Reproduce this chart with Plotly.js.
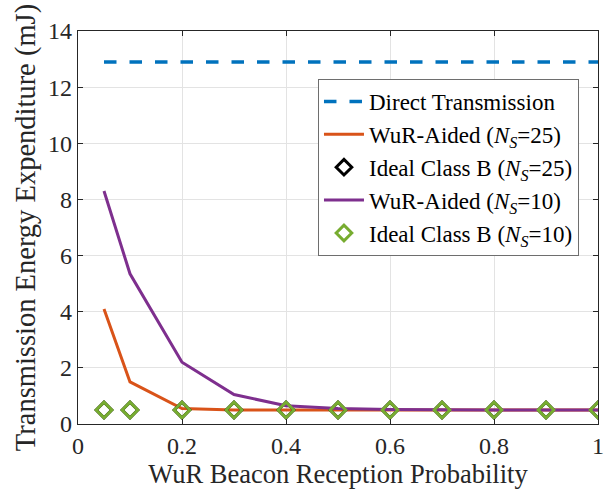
<!DOCTYPE html>
<html><head><meta charset="utf-8">
<script src="https://cdn.plot.ly/plotly-3.0.1.min.js"></script>
<style>html,body{margin:0;padding:0;background:#fff}#chart{width:615px;height:497px}</style>
</head><body><div id="chart"></div>
<script>
const pX = [0.05, 0.1, 0.2, 0.3, 0.4, 0.5, 0.6, 0.7, 0.8, 0.9, 1.0];
const directY = [12.9, 12.9, 12.9, 12.9, 12.9, 12.9, 12.9, 12.9, 12.9, 12.9, 12.9];
const wur25 = [4.1, 1.5, 0.55, 0.5, 0.5, 0.5, 0.5, 0.5, 0.5, 0.5, 0.5];
const ideal25 = [0.5, 0.5, 0.5, 0.5, 0.5, 0.5, 0.5, 0.5, 0.5, 0.5, 0.5];
const wur10 = [8.3, 5.35, 2.2, 1.05, 0.65, 0.55, 0.52, 0.5, 0.5, 0.5, 0.5];
const ideal10 = [0.5, 0.5, 0.5, 0.5, 0.5, 0.5, 0.5, 0.5, 0.5, 0.5, 0.5];
const xTicks = [0, 0.2, 0.4, 0.6, 0.8, 1];
const xTickText = ['0', '0.2', '0.4', '0.6', '0.8', '1'];
const yTicks = [0, 2, 4, 6, 8, 10, 12, 14];

const font = 'Liberation Serif, Times New Roman, serif';
const traces = [
  {x: pX, y: directY, mode: 'lines', name: 'Direct Transmission',
   line: {color: '#0072BD', width: 3.5, dash: '12.5px,13px'}},
  {x: pX, y: wur25, mode: 'lines', name: 'WuR-Aided (<i>N</i><sub><i>S</i></sub>=25)',
   line: {color: '#D95319', width: 3}},
  {x: pX, y: ideal25, mode: 'markers', name: 'Ideal Class B (<i>N</i><sub><i>S</i></sub>=25)',
   marker: {symbol: 'diamond-open', size: 12, color: '#000000', line: {width: 3, color: '#000000'}}},
  {x: pX, y: wur10, mode: 'lines', name: 'WuR-Aided (<i>N</i><sub><i>S</i></sub>=10)',
   line: {color: '#7E2F8E', width: 3}},
  {x: pX, y: ideal10, mode: 'markers', name: 'Ideal Class B (<i>N</i><sub><i>S</i></sub>=10)',
   marker: {symbol: 'diamond-open', size: 12, color: '#77AC30', line: {width: 3, color: '#77AC30'}}}
];
const axisCommon = {
  showline: true, linecolor: '#262626', linewidth: 1.2, mirror: 'ticks',
  ticks: 'inside', ticklen: 5, tickcolor: '#262626',
  showgrid: true, gridcolor: '#e3e3e3', gridwidth: 1, zeroline: false,
  tickfont: {family: font, size: 24, color: '#262626'}
};
const layout = {
  width: 615, height: 497,
  margin: {l: 78, r: 17, t: 31, b: 73},
  paper_bgcolor: '#fff', plot_bgcolor: '#fff',
  font: {family: font, color: '#262626'},
  showlegend: true,
  xaxis: Object.assign({}, axisCommon, {range: [0, 1], tickvals: xTicks, ticktext: xTickText,
    title: {text: 'WuR Beacon Reception Probability', font: {family: font, size: 26.5, color: '#262626'}, standoff: 2}}),
  yaxis: Object.assign({}, axisCommon, {range: [0, 14], tickvals: yTicks,
    title: {text: 'Transmission Energy Expenditure (mJ)', font: {family: font, size: 28.5, color: '#262626'}, standoff: 4}}),
  legend: {x: 0.4615, y: 0.878, xanchor: 'left', yanchor: 'top', bgcolor: '#fff',
    bordercolor: '#6e6e6e', borderwidth: 1, font: {family: font, size: 23, color: '#000'},
    tracegroupgap: 0, itemwidth: 40}
};
Plotly.newPlot('chart', traces, layout, {displayModeBar: false, staticPlot: true});
</script></body></html>
